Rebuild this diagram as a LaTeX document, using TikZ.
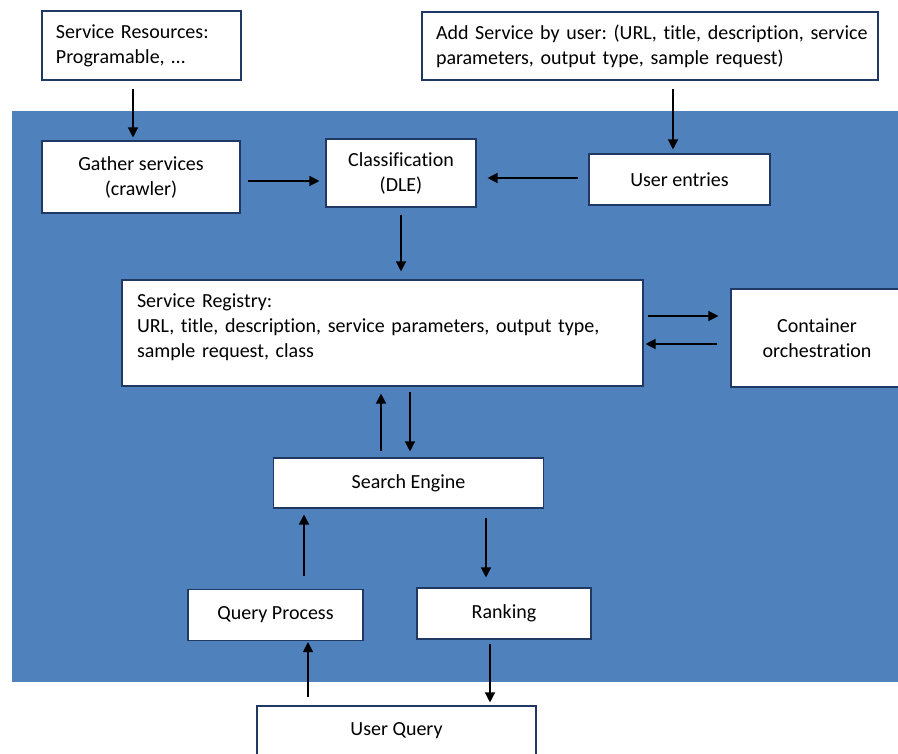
\documentclass[tikz,border=0pt]{standalone}
\usepackage{fontspec}
\setmainfont[Ligatures=NoCommon]{Carlito}
\usepackage{tikz}
\usetikzlibrary{positioning,arrows.meta}
\definecolor{panelblue}{RGB}{79, 129, 189}
\definecolor{boxnavy}{RGB}{31, 56, 100}
\frenchspacing

\begin{document}
\begin{tikzpicture}[
        x=1pt, y=-1pt,
        font=\fontsize{20}{25}\selectfont,
        box/.style={draw=boxnavy, line width=1.1pt, fill=white, align=center,
            inner sep=0pt},
        notebox/.style={box, align=left, inner xsep=14pt},
        arrow/.style={-{Triangle[length=10pt,width=10pt]}, line width=1.3pt, draw=black}
    ]
    \useasboundingbox (0,0) rectangle (898,754);
    \fill[panelblue] (12,111) rectangle (898,682);

    \node[notebox, text width=171pt, minimum height=69pt] (sres) at (141.5,45.5)
        {Service Resources:\\Programable, \dots};
    \node[notebox, text width=428pt, minimum height=68pt] (addsrv) at (650,46)
        {\mbox{Add Service by user: (URL, title, description, service}\\parameters, output type, sample request)};
    \node[box, minimum width=198pt, minimum height=72pt] (gather) at (141,177)
        {Gather services\\(crawler)};
    \node[box, minimum width=150pt, minimum height=68pt] (classif) at (401,173)
        {Classification\\(DLE)};
    \node[box, minimum width=181pt, minimum height=51pt] (uentry) at (679.5,179.5)
        {User entries};
    \node[notebox, inner xsep=15pt, text width=491pt, minimum height=106pt] (registry) at (382.5,333)
        {Service Registry:\\URL, title, description, service parameters, output type,\\sample request, class\rule[-14pt]{0pt}{0pt}};
    \node[box, minimum width=172pt, minimum height=98pt] (contain) at (817,338)
        {Container\\orchestration};
    \node[box, minimum width=270pt, minimum height=50pt] (search) at (408.5,483)
        {Search Engine};
    \node[box, minimum width=175pt, minimum height=51pt] (qproc) at (275.5,615)
        {Query Process};
    \node[box, minimum width=174pt, minimum height=51pt] (rank) at (504,613.5)
        {Ranking};
    \node[box, minimum width=279pt, minimum height=50pt] (uquery) at (396.5,731)
        {User Query};

    \draw[arrow] ([xshift=-8.5pt,yshift=-8pt]sres.south) -- ([xshift=-8pt,yshift=3pt]gather.north);
    \draw[arrow] ([xshift=7pt,yshift=-4pt]gather.east) -- ([xshift=-6pt,yshift=-8pt]classif.west);
    \draw[arrow] ([xshift=-10pt,yshift=1.5pt]uentry.west) -- ([xshift=11pt,yshift=-5pt]classif.east);
    \draw[arrow] ([xshift=23pt,yshift=-8pt]addsrv.south) -- ([xshift=-6.5pt,yshift=4pt]uentry.north);
    \draw[arrow] ([yshift=-7pt]classif.south) -- ([xshift=18.5pt,yshift=8pt]registry.north);
    \draw[arrow] ([xshift=4pt,yshift=17pt]registry.east) -- ([xshift=-12pt,yshift=22pt]contain.west);
    \draw[arrow] ([xshift=-13pt,yshift=-6pt]contain.west) -- ([xshift=2pt,yshift=-11pt]registry.east);
    \draw[arrow] ([xshift=-27.5pt,yshift=6pt]search.north) -- ([xshift=-1.5pt,yshift=-7pt]registry.south);
    \draw[arrow] ([xshift=27.5pt,yshift=-5pt]registry.south) -- ([xshift=1.5pt,yshift=6pt]search.north);
    \draw[arrow] ([xshift=28.5pt,yshift=13pt]qproc.north) -- ([xshift=-104.5pt,yshift=-6pt]search.south);
    \draw[arrow] ([xshift=77.5pt,yshift=-9pt]search.south) -- ([xshift=-18pt,yshift=10pt]rank.north);
    \draw[arrow] ([xshift=-88.5pt,yshift=8pt]uquery.north) -- ([xshift=32.5pt,yshift=-1pt]qproc.south);
    \draw[arrow] ([xshift=-14pt,yshift=-4pt]rank.south) -- ([xshift=93.5pt,yshift=3pt]uquery.north);
    \end{tikzpicture}
\end{document}
